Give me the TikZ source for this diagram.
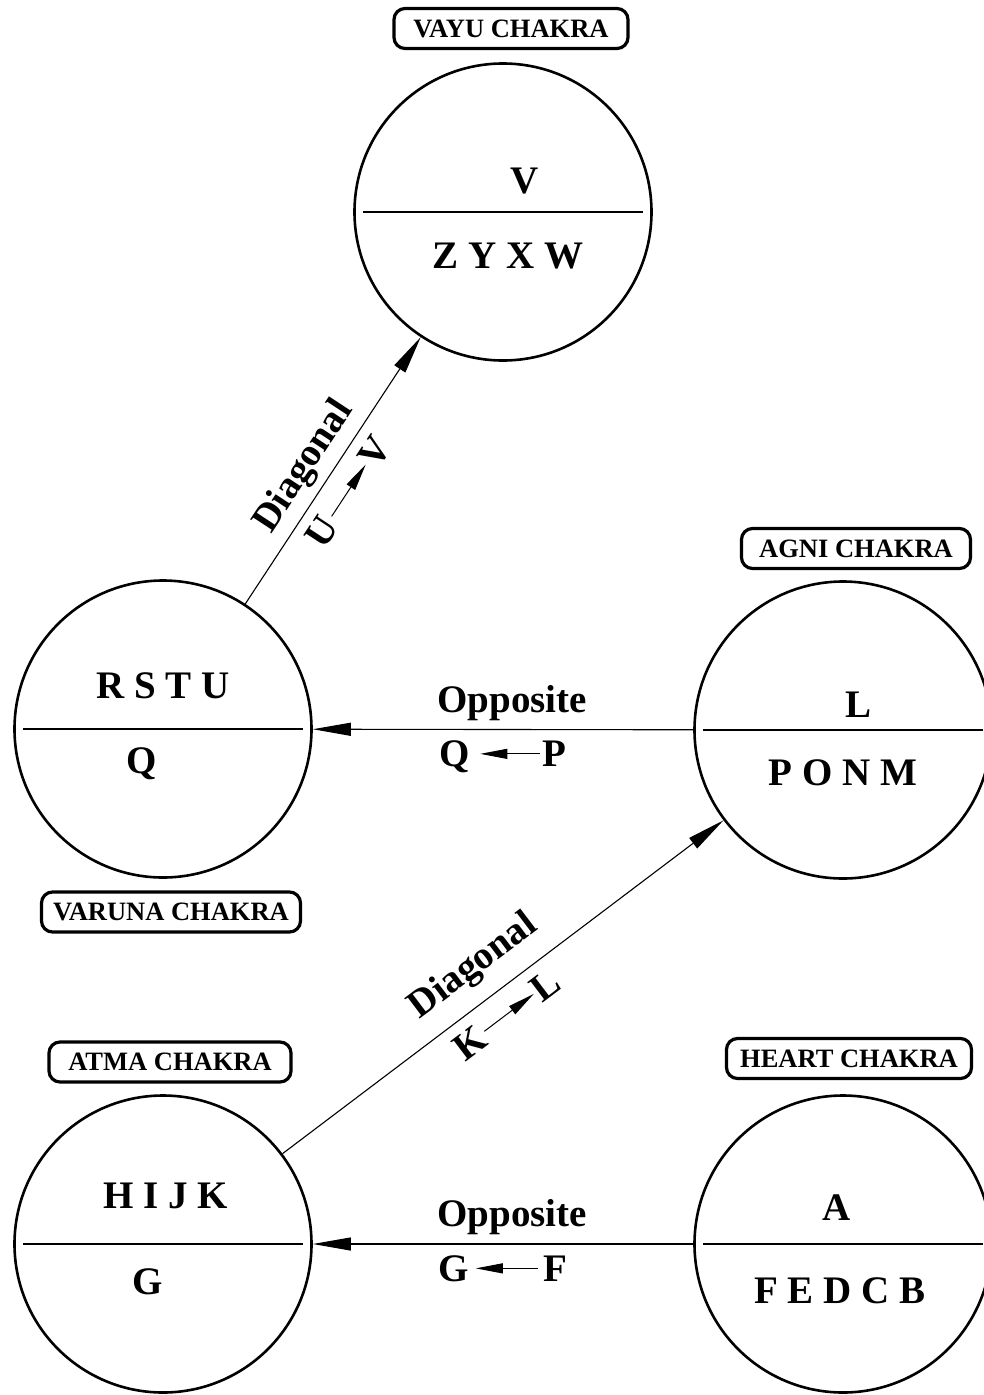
\documentclass[tikz,border=0pt]{standalone}
\usepackage{fontspec}
\setmainfont{Liberation Serif}
\usetikzlibrary{arrows.meta}
\newcommand{\smallarrowL}[1]{\tikz[baseline=-13pt]{\path (0pt,-13pt) (0pt,6pt); \draw[line width=1pt,-{Triangle[length=27pt,width=10pt]}] (#1,0pt) -- (0pt,0pt);}}
\newcommand{\smallarrowR}[1]{\tikz[baseline=-13pt]{\path (0pt,-13pt) (0pt,6pt); \draw[line width=1pt,-{Triangle[length=27pt,width=10pt]}] (0pt,0pt) -- (#1,0pt);}}
\begin{document}
\begin{tikzpicture}[x=1pt,y=-1pt,
  chakra/.style={circle, draw, line width=2.6pt, minimum size=297pt, inner sep=0pt},
  chakratag/.style={draw, line width=3.2pt, rounded corners=11pt, minimum height=40pt, inner xsep=0pt,
                    font=\fontsize{26.5}{30}\selectfont\bfseries},
  big/.style={font=\fontsize{39}{44}\selectfont\bfseries, anchor=base, inner sep=0pt},
  lab/.style={font=\fontsize{39}{44}\selectfont\bfseries},
  conn/.style={line width=1.1pt, -{Triangle[length=38pt,width=13pt]}},
  divider/.style={line width=1.3pt}]
\useasboundingbox (0,0) rectangle (984,1395);

% circles
\node[chakra] (vayu)   at (503,212)  {};
\node[chakra] (varuna) at (163,729)  {};
\node[chakra] (agni)   at (843,730)  {};
\node[chakra] (atma)   at (163,1244) {};
\node[chakra] (heart)  at (843,1244) {};

% dividers
\foreach \c in {vayu,varuna,agni,atma,heart}
  \draw[divider] ([xshift=10pt]\c.west) -- ([xshift=-10pt]\c.east);

% tags
\node[chakratag, minimum width=234pt] (tvayu)   at (511,28.5)  {VAYU CHAKRA};
\node[chakratag, minimum width=259pt] (tvaruna) at (171,912)   {VARUNA CHAKRA};
\node[chakratag, minimum width=229pt] (tagni)   at (856,548.5) {AGNI CHAKRA};
\node[chakratag, minimum width=242pt] (tatma)   at (170,1062)  {ATMA CHAKRA};
\node[chakratag, minimum width=245pt] (theart)  at (849,1058.5){HEART CHAKRA};

% letters
\node[big] (vtop) at (525,193)  {V};
\node[big] (vbot) at (508,268)  {Z Y X W};
\node[big] (rtop) at (163,698)  {R S T U};
\node[big] (rbot) at (142,773)  {Q};
\node[big] (atop) at (858,717)  {L};
\node[big] (abot) at (843,785)  {P O N M};
\node[big] (mtop) at (166,1208) {H I J K};
\node[big] (mbot) at (148,1294) {G};
\node[big] (htop) at (837,1220) {A};
\node[big] (hbot) at (840,1303) {F E D C B};

% connectors
\draw[conn] (agni) -- node[lab, pos=0.476, above=5pt] (o1) {Opposite}
                      node[lab, pos=0.5, below=8pt] (o1b) {Q\hspace{10pt}\smallarrowL{60pt}\hspace{2pt}P} (varuna);
\draw[conn] (heart) -- node[lab, pos=0.476, above=5pt] (o2) {Opposite}
                      node[lab, pos=0.5, below=8pt] (o2b) {G\hspace{6pt}\smallarrowL{62pt}\hspace{5pt}F} (atma);
\draw[conn] (varuna) -- node[lab, pos=0.46, sloped, above=4pt] (d1) {Diagonal}
                        node[lab, pos=0.47, sloped, below=8pt] (d1b) {U\hspace{4pt}\smallarrowR{62pt}\hspace{1pt}V} (vayu);
\draw[conn] (atma) -- node[lab, pos=0.48, sloped, above=12pt] (d2) {Diagonal}
                      node[lab, pos=0.475, sloped, below=8pt] (d2b) {K\hspace{3pt}\smallarrowR{62pt}\hspace{1pt}L} (agni);
\end{tikzpicture}
\end{document}
